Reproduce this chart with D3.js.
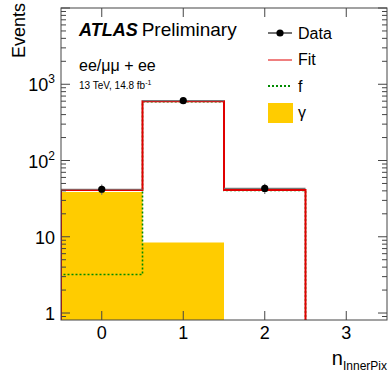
<!DOCTYPE html>
<html><head><meta charset="utf-8">
<script src="https://cdn.jsdelivr.net/npm/d3@7"></script>
<style>body{margin:0;background:#fff}svg{display:block;font-family:"Liberation Sans",Arial,Helvetica,sans-serif}</style>
</head><body>
<svg id="c" width="388" height="373"></svg>
<script>
const bins = [0, 1, 2, 3];
const dataVals = [42, 610, 43, 0];
const fitVals = [41, 600, 41, 0];
const fVals = [3.2, 590, 40.5, 0];
const gammaVals = [38.5, 8.4, 0, 0];
const xTicks = [0, 1, 2, 3];
const yMajor = [1, 10, 100, 1000, 10000];
const yLabels = [["1",""],["10",""],["10","2"],["10","3"]];

const W = 388, H = 373;
const L = 61, R = 387, T = 8, B = 320;
const svg = d3.select("#c");
const x = d3.scaleLinear().domain([-0.5, 3.5]).range([L, R]);
const y = d3.scaleLog().domain([0.81, 10000]).range([B, T]);
const yv = v => v > 0 ? y(v) : B + 20;

svg.append("clipPath").attr("id","clip").append("rect")
  .attr("x", L).attr("y", T).attr("width", R - L).attr("height", B - T);
const g = svg.append("g").attr("clip-path","url(#clip)");

function stepPts(vals){
  const pts = [[x(-0.5), B + 20]];
  bins.forEach((b,i)=>{
    pts.push([x(b - 0.5), yv(vals[i])]);
    pts.push([x(b + 0.5), yv(vals[i])]);
  });
  pts.push([x(3.5), B + 20]);
  return pts;
}
const line = d3.line();
// gamma filled histogram
g.append("path").attr("d", line(stepPts(gammaVals)) + "Z").attr("fill", "#ffcc00");
g.append("path").attr("d", line(stepPts(fVals))).attr("fill","none")
  .attr("stroke","#008a00").attr("stroke-width",1.6).attr("stroke-dasharray","2,2");
g.append("path").attr("d", line(stepPts(fitVals))).attr("fill","none")
  .attr("stroke","#e00000").attr("stroke-width",2);

// data points
const dg = g.append("g");
bins.forEach((b,i)=>{
  const v = dataVals[i];
  if (v <= 0) return;
  const e = Math.sqrt(v);
  dg.append("line").attr("x1", x(b-0.5)).attr("x2", x(b+0.5))
    .attr("y1", y(v)).attr("y2", y(v)).attr("stroke","#777").attr("stroke-width",1.2);
  dg.append("line").attr("x1", x(b)).attr("x2", x(b))
    .attr("y1", y(v+e)).attr("y2", y(v-e)).attr("stroke","#777").attr("stroke-width",1.2);
  dg.append("circle").attr("cx", x(b)).attr("cy", y(v)).attr("r", 3.6).attr("fill","#000");
});

// frame and ticks
const ax = svg.append("g").attr("stroke","#444").attr("stroke-width",1);
ax.append("rect").attr("x", L).attr("y", T).attr("width", R-L).attr("height", B-T).attr("fill","none");
xTicks.forEach(t=>{
  ax.append("line").attr("x1",x(t)).attr("x2",x(t)).attr("y1",B).attr("y2",B-9);
  ax.append("line").attr("x1",x(t)).attr("x2",x(t)).attr("y1",T).attr("y2",T+9);
});
const minors = [];
[0.1,1,10,100,1000].forEach(d=>{ for(let k=2;k<=9;k++){ const v=d*k; if(v>=0.81 && v<=10000) minors.push(v);} });
yMajor.forEach(v=>{
  ax.append("line").attr("x1",L).attr("x2",L+9).attr("y1",y(v)).attr("y2",y(v));
  ax.append("line").attr("x1",R).attr("x2",R-9).attr("y1",y(v)).attr("y2",y(v));
});
minors.forEach(v=>{
  ax.append("line").attr("x1",L).attr("x2",L+5).attr("y1",y(v)).attr("y2",y(v));
  ax.append("line").attr("x1",R).attr("x2",R-5).attr("y1",y(v)).attr("y2",y(v));
});

// y labels
yLabels.forEach((lab,i)=>{
  const t = svg.append("text").attr("x", 55).attr("y", y(yMajor[i]) + 7)
    .attr("text-anchor","end").attr("font-size",18).attr("fill","#000");
  t.append("tspan").text(lab[0]);
  if (lab[1]) t.append("tspan").attr("font-size",12).attr("dy",-8).text(lab[1]);
});
// x labels
xTicks.forEach(t=>{
  svg.append("text").attr("x", x(t)).attr("y", 339).attr("text-anchor","middle")
    .attr("font-size",18).text(String(t));
});
// axis titles
const xt = svg.append("text").attr("x", 387).attr("y", 365).attr("text-anchor","end").attr("font-size",20);
xt.append("tspan").text("n");
xt.append("tspan").attr("font-size",12).attr("dy",5).text("InnerPix");
svg.append("text").attr("transform","translate(25,3) rotate(-90)").attr("text-anchor","end")
  .attr("font-size",18).text("Events");

// labels
const at = svg.append("text").attr("x",79).attr("y",36).attr("font-size",18);
at.append("tspan").attr("font-weight","bold").attr("font-style","italic").text("ATLAS");
at.append("tspan").attr("dx",4).attr("font-size",19).text("Preliminary");
svg.append("text").attr("x",79).attr("y",71).attr("font-size",16).text("ee/μμ + ee");
const lt = svg.append("text").attr("x",79).attr("y",89).attr("font-size",10);
lt.append("tspan").text("13 TeV, 14.8 fb");
lt.append("tspan").attr("font-size",7).attr("dy",-4).text("-1");

// legend
const lg = svg.append("g");
lg.append("line").attr("x1",268).attr("x2",292).attr("y1",33).attr("y2",33).attr("stroke","#444").attr("stroke-width",1.5);
lg.append("circle").attr("cx",280).attr("cy",33).attr("r",3.6).attr("fill","#000");
lg.append("text").attr("x",298).attr("y",39).attr("font-size",16).text("Data");
lg.append("line").attr("x1",268).attr("x2",292).attr("y1",60).attr("y2",60).attr("stroke","#e00000").attr("stroke-width",1);
lg.append("text").attr("x",298).attr("y",65).attr("font-size",16).text("Fit");
lg.append("line").attr("x1",268).attr("x2",292).attr("y1",86).attr("y2",86).attr("stroke","#008a00").attr("stroke-width",2).attr("stroke-dasharray","2,2");
lg.append("text").attr("x",298).attr("y",92).attr("font-size",16).text("f");
lg.append("rect").attr("x",268).attr("y",103).attr("width",25).attr("height",20).attr("fill","#ffcc00");
lg.append("text").attr("x",298).attr("y",118).attr("font-size",16).text("γ");
</script>
</body></html>
